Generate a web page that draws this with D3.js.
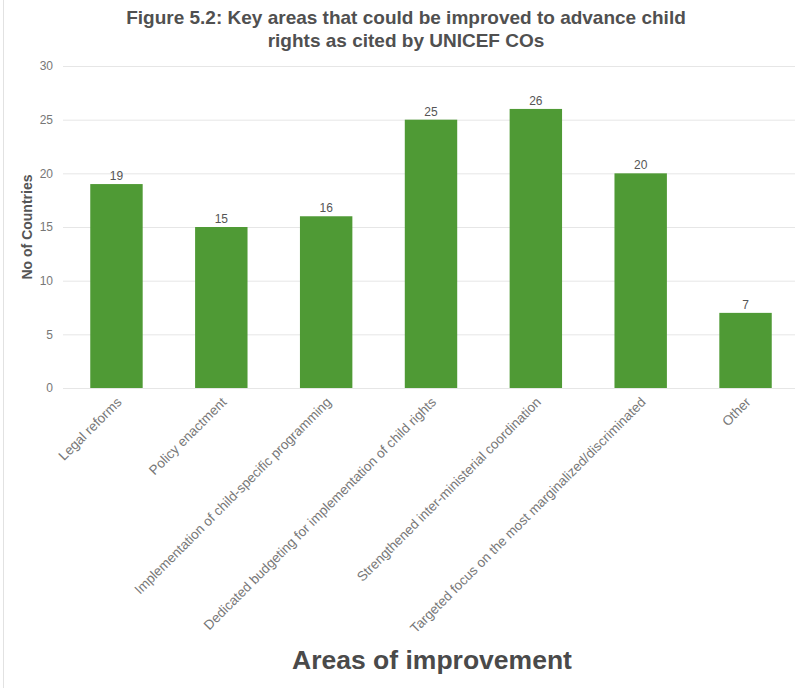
<!DOCTYPE html>
<html>
<head>
<meta charset="utf-8">
<script src="https://cdn.jsdelivr.net/npm/d3@7"></script>
<style>
  body { margin: 0; background: #fff; }
  svg { font-family: "Liberation Sans", Arial, sans-serif; }
</style>
</head>
<body>
<svg id="chart"></svg>
<script>
// values
const categories = [
  "Legal reforms",
  "Policy enactment",
  "Implementation of child-specific programming",
  "Dedicated budgeting for implementation of child rights",
  "Strengthened inter-ministerial coordination",
  "Targeted focus on the most marginalized/discriminated",
  "Other"
]
const counts = [19, 15, 16, 25, 26, 20, 7]
const yTicks = [0, 5, 10, 15, 20, 25, 30]
const titleLines = ["Figure 5.2: Key areas that could be improved to advance child", "rights as cited by UNICEF COs"]

const width = 812
const height = 688
const marging = {top: 66, left: 63, right: 13, bottom: 300}

const svg = d3.select("#chart").attr("width", width).attr("height", height)

// faint frame edge on the left like the screenshot
svg.append("line").attr("x1", 3.5).attr("x2", 3.5).attr("y1", 0).attr("y2", height)
    .attr("stroke", "#e2e2e2")

var y_scale = d3.scaleLinear().domain([0, 30]).range([height - marging.bottom, marging.top])
var x_scale = d3.scaleBand().domain(categories)
    .range([marging.left, 799]).paddingInner(0.5).paddingOuter(0.26)

// grid lines
var y_axis = d3.axisRight(y_scale).tickValues(yTicks).tickSize(795 - marging.left).tickFormat("")
svg.append("g")
    .attr("class", "y_grid")
    .attr("transform", `translate(${marging.left},0)`)
    .call(y_axis)
    .call(g => g.select(".domain").remove())
    .call(g => g.selectAll(".tick line").attr("stroke", "#e6e6e6"))

// y tick labels
svg.append("g").selectAll("text").data(yTicks)
    .join("text")
    .attr("x", 53)
    .attr("y", d => y_scale(d))
    .attr("dy", "0.35em")
    .attr("text-anchor", "end")
    .attr("font-size", 12)
    .attr("fill", "#777")
    .text(d => d)

// bars
svg.append("g").selectAll("rect").data(counts)
    .join("rect")
    .attr("x", (d, i) => x_scale(categories[i]))
    .attr("width", x_scale.bandwidth())
    .attr("y", d => y_scale(d))
    .attr("height", d => y_scale(0) - y_scale(d))
    .attr("fill", "#4f9a35")

// value labels
svg.append("g").selectAll("text").data(counts)
    .join("text")
    .attr("x", (d, i) => x_scale(categories[i]) + x_scale.bandwidth() / 2)
    .attr("y", d => y_scale(d) - 4)
    .attr("text-anchor", "middle")
    .attr("font-size", 12)
    .attr("fill", "#555")
    .text(d => d)

// category labels, rotated
svg.append("g").selectAll("text").data(categories)
    .join("text")
    .attr("transform", d => `translate(${x_scale(d) + x_scale.bandwidth() / 2 + 6},${y_scale(0) + 15}) rotate(-45)`)
    .attr("text-anchor", "end")
    .attr("font-size", 13.5)
    .attr("fill", "#777")
    .text(d => d)

// title
svg.append("g").selectAll("text").data(titleLines)
    .join("text")
    .attr("x", 406)
    .attr("y", (d, i) => 24 + i * 23)
    .attr("text-anchor", "middle")
    .attr("font-size", 19)
    .attr("font-weight", "bold")
    .attr("fill", "#505050")
    .text(d => d)

// axis titles
svg.append("text")
    .attr("transform", `translate(32,227) rotate(-90)`)
    .attr("text-anchor", "middle")
    .attr("font-size", 14)
    .attr("font-weight", "bold")
    .attr("fill", "#555")
    .text("No of Countries")

svg.append("text")
    .attr("x", 432)
    .attr("y", 669)
    .attr("text-anchor", "middle")
    .attr("font-size", 26.5)
    .attr("font-weight", "bold")
    .attr("fill", "#4a4a4a")
    .text("Areas of improvement")
</script>
</body>
</html>
